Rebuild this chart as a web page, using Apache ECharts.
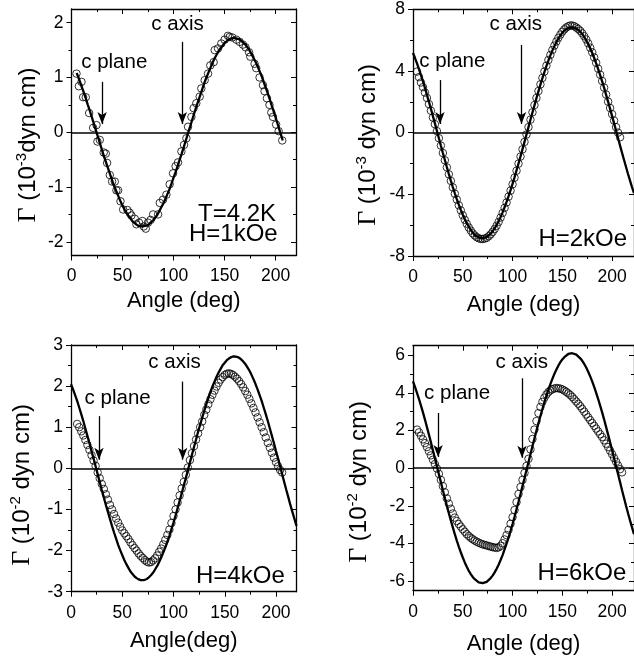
<!DOCTYPE html>
<html>
<head>
<meta charset="utf-8">
<script src="https://cdn.jsdelivr.net/npm/echarts@6/dist/echarts.min.js"></script>
<style>
  html, body { margin: 0; padding: 0; background: #fff; }
  #chart { width: 634px; height: 659px; }
</style>
</head>
<body>
<div id="chart"></div>
<script>
// Torque curves Γ(θ) at 4.2 K for four applied fields: measured points (open circles)
// and the calculated curve (solid line).

// Common angle grid (deg) used by the dense scans and the calculated curves
const angleGrid = [0,2,4,6,8,10,12,14,16,18,20,22,24,26,28,30,32,34,36,38,40,42,44,46,48,50,52,54,56,58,
  60,62,64,66,68,70,72,74,76,78,80,82,84,86,88,90,92,94,96,98,100,102,104,106,108,110,112,114,116,118,
  120,122,124,126,128,130,132,134,136,138,140,142,144,146,148,150,152,154,156,158,160,162,164,166,168,170,
  172,174,176,178,180,182,184,186,188,190,192,194,196,198,200,202,204,206,208,210,212,214,216,218,220,222];

// Tick values
const angleTicks = [0, 50, 100, 150, 200];
const angleMinor = [25, 75, 125, 175];
const ticks1k = [-2, -1, 0, 1, 2];
const minor1k = [-1.5, -0.5, 0.5, 1.5];
const ticks2k = [-8, -4, 0, 4, 8];
const minor2k = [-6, -2, 2, 6];
const ticks4k = [-3, -2, -1, 0, 1, 2, 3];
const minor4k = [-2.5, -1.5, -0.5, 0.5, 1.5, 2.5];
const ticks6k = [-6, -4, -2, 0, 2, 4, 6];
const minor6k = [-5, -3, -1, 1, 3, 5];

// H = 1 kOe (10^-3 dyn cm)
const angle1k = [4.9,7.2,9.8,11.4,14,17.3,21.2,24.5,25.4,27.7,31.6,33.6,34.9,37.5,39.8,42.4,44,45.7,48,50.6,
  54.8,57,58.7,62,63.6,66.2,69.5,70.8,72.8,75,77.5,80,84.8,86.5,89.7,93,96.2,99.5,102,104.4,107.7,
  110.3,112.6,114.2,117.5,119.7,122.3,125.6,127.2,130.5,133.8,136,139.3,140.3,143.6,146.8,150,153.3,155,157.6,161.5,
  164.8,168,170.6,174,175.2,179.4,181,184.3,187.6,189.2,191.5,194,195.8,197.4,200.5,203,206.5];
const torque1k = [1.07,0.84,0.92,0.64,0.64,0.35,0.08,0.13,-0.17,-0.14,-0.37,-0.39,-0.56,-0.78,-0.9,-0.9,-1.06,-1.06,-1.26,-1.41,
  -1.42,-1.47,-1.52,-1.58,-1.68,-1.65,-1.62,-1.72,-1.76,-1.65,-1.6,-1.5,-1.5,-1.29,-1.23,-1.14,-0.95,-0.75,-0.62,-0.55,-0.35,
  -0.23,-0.11,0.1,0.28,0.44,0.53,0.65,0.8,0.95,1.07,1.22,1.28,1.5,1.53,1.62,1.69,1.76,1.74,1.73,1.69,
  1.65,1.6,1.55,1.46,1.38,1.25,1.17,1.0,0.86,0.75,0.62,0.5,0.36,0.28,0.14,0.02,-0.15];
const fitAngle1k = [5].concat(angleGrid.slice(3, 104), [207]);
const fit1k = [1.08,
  1.04,0.94,0.83,0.73,0.62,0.5,0.39,0.27,0.15,0.03,
  -0.09,-0.21,-0.33,-0.45,-0.56,-0.67,-0.78,-0.89,-0.99,-1.08,
  -1.17,-1.26,-1.34,-1.41,-1.47,-1.53,-1.58,-1.63,-1.66,-1.69,
  -1.71,-1.72,-1.72,-1.71,-1.7,-1.68,-1.64,-1.61,-1.56,-1.51,
  -1.44,-1.37,-1.3,-1.22,-1.13,-1.04,-0.94,-0.83,-0.73,-0.62,
  -0.5,-0.39,-0.27,-0.15,-0.03,0.09,0.21,0.33,0.45,0.56,
  0.67,0.78,0.89,0.99,1.08,1.17,1.26,1.34,1.41,1.47,
  1.53,1.58,1.63,1.66,1.69,1.71,1.72,1.72,1.71,1.7,
  1.68,1.64,1.61,1.56,1.51,1.44,1.37,1.3,1.22,1.13,
  1.04,0.94,0.83,0.73,0.62,0.5,0.39,0.27,0.15,0.03,
  -0.09, -0.15];

// H = 2 kOe (10^-3 dyn cm), scan 4..208 deg
const angle2k = angleGrid.slice(2, 105);
const torque2k = [3.96,3.6,3.25,2.95,2.6,2.25,1.85,1.42,0.98,0.55,
  0.1,-0.36,-0.84,-1.32,-1.79,-2.25,-2.7,-3.13,-3.55,-3.96,
  -4.34,-4.71,-5.04,-5.36,-5.65,-5.91,-6.15,-6.35,-6.53,-6.67,
  -6.78,-6.85,-6.89,-6.9,-6.87,-6.82,-6.72,-6.6,-6.44,-6.25,
  -6.04,-5.79,-5.51,-5.21,-4.88,-4.53,-4.15,-3.76,-3.35,-2.92,
  -2.47,-2.01,-1.55,-1.08,-0.6,-0.12,0.36,0.84,1.32,1.79,
  2.25,2.7,3.13,3.55,3.96,4.34,4.71,5.04,5.36,5.65,
  5.91,6.15,6.36,6.55,6.7,6.82,6.9,6.95,6.95,6.9,
  6.82,6.72,6.6,6.44,6.25,6.04,5.79,5.51,5.21,4.88,
  4.53,4.15,3.76,3.35,2.92,2.47,2.01,1.6,1.2,0.78,
  0.36,0.0,-0.3];
const fitAngle2k = angleGrid;
const fit2k = [5.17,4.84,4.49,4.12,3.73,3.32,2.9,2.45,2.0,1.54,
  1.07,0.6,0.12,-0.36,-0.84,-1.31,-1.77,-2.23,-2.68,-3.11,
  -3.53,-3.93,-4.31,-4.67,-5.01,-5.32,-5.61,-5.87,-6.1,-6.31,
  -6.48,-6.62,-6.73,-6.8,-6.84,-6.85,-6.82,-6.77,-6.67,-6.55,
  -6.4,-6.21,-5.99,-5.75,-5.47,-5.17,-4.84,-4.49,-4.12,-3.73,
  -3.32,-2.9,-2.45,-2.0,-1.54,-1.07,-0.6,-0.12,0.36,0.84,
  1.31,1.77,2.23,2.68,3.11,3.53,3.93,4.31,4.67,5.01,
  5.32,5.61,5.87,6.1,6.31,6.48,6.62,6.73,6.8,6.84,
  6.85,6.82,6.77,6.67,6.55,6.4,6.21,5.99,5.75,5.47,
  5.17,4.84,4.49,4.12,3.73,3.32,2.9,2.45,2.0,1.54,
  1.07,0.6,0.12,-0.36,-0.84,-1.31,-1.77,-2.23,-2.68,-3.11,
  -3.53,-3.93];

// H = 4 kOe (10^-2 dyn cm), scan 6..206 deg
const angle4k = angleGrid.slice(3, 104);
const torque4k = [1.08,1.0,0.9,0.8,0.69,0.57,0.45,0.32,0.19,0.06,
  -0.1,-0.24,-0.38,-0.5,-0.63,-0.76,-0.89,-1.0,-1.11,-1.22,
  -1.32,-1.42,-1.51,-1.58,-1.65,-1.72,-1.8,-1.87,-1.94,-2.0,
  -2.07,-2.13,-2.18,-2.23,-2.27,-2.29,-2.28,-2.24,-2.19,-2.12,
  -2.03,-1.95,-1.85,-1.74,-1.62,-1.49,-1.33,-1.16,-1.0,-0.83,
  -0.66,-0.49,-0.33,-0.16,0.02,0.2,0.37,0.54,0.7,0.85,
  1.0,1.14,1.3,1.43,1.56,1.68,1.79,1.89,1.99,2.08,
  2.16,2.22,2.27,2.3,2.31,2.3,2.27,2.23,2.18,2.12,
  2.05,1.97,1.88,1.79,1.69,1.58,1.47,1.36,1.24,1.12,
  1.0,0.88,0.75,0.62,0.5,0.38,0.26,0.15,0.05,-0.04,
  -0.1];
const fitAngle4k = angleGrid.slice(0, 111);
const fit4k = [2.05,1.92,1.78,1.64,1.48,1.32,1.15,0.97,0.79,0.61,
  0.42,0.24,0.05,-0.14,-0.33,-0.52,-0.7,-0.89,-1.06,-1.23,
  -1.4,-1.56,-1.71,-1.86,-1.99,-2.11,-2.23,-2.33,-2.42,-2.51,
  -2.57,-2.63,-2.67,-2.7,-2.72,-2.72,-2.71,-2.69,-2.65,-2.6,
  -2.54,-2.46,-2.38,-2.28,-2.17,-2.05,-1.92,-1.78,-1.64,-1.48,
  -1.32,-1.15,-0.97,-0.79,-0.61,-0.42,-0.24,-0.05,0.14,0.33,
  0.52,0.7,0.89,1.06,1.23,1.4,1.56,1.71,1.86,1.99,
  2.11,2.23,2.33,2.42,2.51,2.57,2.63,2.67,2.7,2.72,
  2.72,2.71,2.69,2.65,2.6,2.54,2.46,2.38,2.28,2.17,
  2.05,1.92,1.78,1.64,1.48,1.32,1.15,0.97,0.79,0.61,
  0.42,0.24,0.05,-0.14,-0.33,-0.52,-0.7,-0.89,-1.06,-1.23,
  -1.4];

// H = 6 kOe (10^-2 dyn cm), scan 4..210 deg
const angle6k = angleGrid.slice(2, 106);
const torque6k = [2.05,1.9,1.72,1.53,1.33,1.12,0.9,0.68,0.45,0.22,
  -0.02,-0.3,-0.62,-0.95,-1.28,-1.6,-1.88,-2.15,-2.4,-2.62,
  -2.8,-2.96,-3.1,-3.24,-3.37,-3.5,-3.6,-3.69,-3.77,-3.84,
  -3.9,-3.95,-4.0,-4.04,-4.07,-4.1,-4.13,-4.16,-4.19,-4.21,
  -4.23,-4.2,-4.12,-3.98,-3.78,-3.55,-3.27,-2.95,-2.6,-2.22,
  -1.8,-1.37,-1.0,-0.62,-0.25,0.12,0.5,1.0,1.55,2.05,
  2.5,2.92,3.25,3.52,3.74,3.91,4.04,4.13,4.19,4.23,
  4.25,4.24,4.22,4.18,4.12,4.05,3.97,3.88,3.78,3.66,
  3.54,3.42,3.29,3.15,3.0,2.85,2.7,2.55,2.4,2.25,
  2.1,1.95,1.8,1.65,1.48,1.3,1.12,0.93,0.74,0.54,
  0.34,0.14,-0.05,-0.22];
const fitAngle6k = angleGrid;
const fit6k = [4.61,4.31,4.0,3.67,3.32,2.96,2.58,2.18,1.78,1.37,
  0.95,0.53,0.1,-0.32,-0.74,-1.17,-1.58,-1.99,-2.39,-2.77,
  -3.14,-3.5,-3.84,-4.16,-4.46,-4.74,-5.0,-5.23,-5.44,-5.62,
  -5.77,-5.89,-5.99,-6.06,-6.09,-6.1,-6.08,-6.03,-5.94,-5.83,
  -5.7,-5.53,-5.34,-5.12,-4.87,-4.61,-4.31,-4.0,-3.67,-3.32,
  -2.96,-2.58,-2.18,-1.78,-1.37,-0.95,-0.53,-0.1,0.32,0.74,
  1.17,1.58,1.99,2.39,2.77,3.14,3.5,3.84,4.16,4.46,
  4.74,5.0,5.23,5.44,5.62,5.77,5.89,5.99,6.06,6.09,
  6.1,6.08,6.03,5.94,5.83,5.7,5.53,5.34,5.12,4.87,
  4.61,4.31,4.0,3.67,3.32,2.96,2.58,2.18,1.78,1.37,
  0.95,0.53,0.1,-0.32,-0.74,-1.17,-1.58,-1.99,-2.39,-2.77,
  -3.14,-3.5];

const SANS = '"Liberation Sans", Arial, Helvetica, sans-serif';
const SERIF = '"Liberation Serif", "Times New Roman", serif';
const INK = '#000';

function pairs(xs, ys) { return xs.map((x, i) => [x, ys[i]]); }

// Layout and annotations of the four panels
const panels = [
  {
    grid: { left: 71.5, top: 9, width: 224.5, height: 246.5 },
    xMax: 220, yMin: -2.25, yMax: 2.25, yMajor: ticks1k, yMinor: minor1k,
    xName: 'Angle (deg)', xNameGap: 34,
    yTitle: '{g|Γ} (10{s|-3}dyn cm)', yTitleAt: [28, 145],
    points: pairs(angle1k, torque1k), curve: pairs(fitAngle1k, fit1k),
    arrows: [[30, 0.92, 0.15], [108.6, 1.65, 0.15]],
    notes: [
      { at: [42.4, 1.26], text: 'c plane', size: 20.5, align: 'center' },
      { at: [104.4, 1.96], text: 'c axis', size: 20.5, align: 'center' },
      { at: [201, -1.51], text: 'T=4.2K', size: 24, align: 'right' },
      { at: [202.5, -1.88], text: 'H=1kOe', size: 24, align: 'right' }
    ]
  },
  {
    grid: { left: 413, top: 9.3, width: 221, height: 246.7 },
    xMax: 222, yMin: -8, yMax: 8, yMajor: ticks2k, yMinor: minor2k,
    xName: 'Angle (deg)', xNameGap: 38,
    yTitle: '{g|Γ} (10{s|-3} dyn cm)', yTitleAt: [368, 145],
    points: pairs(angle2k, torque2k), curve: pairs(fitAngle2k, fit2k),
    arrows: [[27.1, 3.41, 0.56], [109, 5.69, 0.56]],
    notes: [
      { at: [40, 4.6], text: 'c plane', size: 20.5, align: 'center' },
      { at: [103.7, 6.98], text: 'c axis', size: 20.5, align: 'center' },
      { at: [215.6, -6.96], text: 'H=2kOe', size: 24, align: 'right' }
    ]
  },
  {
    grid: { left: 71, top: 345, width: 225.5, height: 246.7 },
    xMax: 220, yMin: -3, yMax: 3, yMajor: ticks4k, yMinor: minor4k,
    xName: 'Angle(deg)', xNameGap: 38,
    yTitle: '{g|Γ} (10{s|-2} dyn cm)', yTitleAt: [22, 485],
    points: pairs(angle4k, torque4k), curve: pairs(fitAngle4k, fit4k),
    arrows: [[27.3, 1.27, 0.21], [109, 2.11, 0.21]],
    notes: [
      { at: [46, 1.69], text: 'c plane', size: 20.5, align: 'center' },
      { at: [101.5, 2.56], text: 'c axis', size: 20.5, align: 'center' },
      { at: [209, -2.64], text: 'H=4kOe', size: 24, align: 'right' }
    ]
  },
  {
    grid: { left: 413, top: 345.7, width: 221, height: 245 },
    xMax: 222, yMin: -6.5, yMax: 6.5, yMajor: ticks6k, yMinor: minor6k,
    xName: 'Angle (deg)', xNameGap: 42,
    yTitle: '{g|Γ} (10{s|-2} dyn cm)', yTitleAt: [359, 482],
    points: pairs(angle6k, torque6k), curve: pairs(fitAngle6k, fit6k),
    arrows: [[25.2, 2.93, 0.6], [109.5, 4.77, 0.55]],
    notes: [
      { at: [44.8, 3.95], text: 'c plane', size: 20.5, align: 'center' },
      { at: [109.8, 5.6], text: 'c axis', size: 20.5, align: 'center' },
      { at: [214.8, -5.6], text: 'H=6kOe', size: 24, align: 'right' }
    ]
  }
];

const option = { animation: false, grid: [], xAxis: [], yAxis: [], series: [], graphic: [] };

function axis(kind, p, gi, pos, values, len, inside, withLabels) {
  const isX = kind === 'x';
  const a = {
    type: 'value', gridIndex: gi, position: pos,
    min: isX ? 0 : p.yMin, max: isX ? p.xMax : p.yMax,
    splitLine: { show: false },
    axisLine: { show: len === 5, onZero: false, lineStyle: { color: INK, width: 1.3 } },
    axisTick: { show: true, inside: inside, length: len, customValues: values, lineStyle: { color: INK, width: 1 } },
    axisLabel: { show: false }
  };
  if (withLabels) {
    a.axisLabel = { show: true, customValues: values, fontSize: 17.5, color: INK, fontFamily: SANS, margin: isX ? 12 : 8 };
  }
  return a;
}

panels.forEach((p, gi) => {
  option.grid.push(p.grid);
  const xi = option.xAxis.length;
  const yi = option.yAxis.length;

  const xb = axis('x', p, gi, 'bottom', angleTicks, 5, false, true);
  xb.name = p.xName;
  xb.nameLocation = 'middle';
  xb.nameGap = p.xNameGap;
  xb.nameTextStyle = { fontSize: 22, color: INK, fontFamily: SANS };
  option.xAxis.push(xb,
    axis('x', p, gi, 'bottom', angleMinor, 3, false, false),
    axis('x', p, gi, 'top', angleTicks, 5, true, false),
    axis('x', p, gi, 'top', angleMinor, 3, true, false));
  option.yAxis.push(
    axis('y', p, gi, 'left', p.yMajor, 5, false, true),
    axis('y', p, gi, 'left', p.yMinor, 3, false, false),
    axis('y', p, gi, 'right', p.yMajor, 5, true, false),
    axis('y', p, gi, 'right', p.yMinor, 3, true, false));

  // measured torque: open circles, with the Γ = 0 reference line
  option.series.push({
    type: 'scatter', xAxisIndex: xi, yAxisIndex: yi, silent: true, z: 2,
    symbol: 'circle', symbolSize: 7.5,
    itemStyle: { color: 'rgba(255,255,255,0)', borderColor: INK, borderWidth: 1 },
    data: p.points,
    markLine: {
      silent: true, symbol: 'none', label: { show: false },
      lineStyle: { color: INK, width: 1.6, type: 'solid' },
      data: [{ yAxis: 0 }]
    }
  });

  // calculated torque curve, with the arrows marking the c plane and c axis
  option.series.push({
    type: 'line', xAxisIndex: xi, yAxisIndex: yi, silent: true, z: 3,
    showSymbol: false, symbol: 'none', smooth: false,
    lineStyle: { color: INK, width: 2.3 },
    data: p.curve,
    markLine: {
      silent: true, symbol: ['none', 'arrow'], symbolSize: [7, 12], label: { show: false },
      lineStyle: { color: INK, width: 1.3, type: 'solid' },
      itemStyle: { color: INK },
      data: p.arrows.map(a => [{ coord: [a[0], a[1]] }, { coord: [a[0], a[2]] }])
    }
  });

  // text annotations
  option.series.push({
    type: 'scatter', xAxisIndex: xi, yAxisIndex: yi, silent: true, z: 4,
    symbolSize: 1, itemStyle: { color: 'rgba(0,0,0,0)' },
    labelLayout: { hideOverlap: false },
    data: p.notes.map(n => ({
      value: n.at, name: n.text,
      label: { show: true, formatter: '{b}', position: [0, 0], align: n.align, verticalAlign: 'middle',
               fontSize: n.size, color: INK, fontFamily: SANS, opacity: 1,
               textBorderWidth: 0, textShadowBlur: 0 }
    }))
  });

  // vertical axis title
  option.graphic.push({
    type: 'text', x: p.yTitleAt[0], y: p.yTitleAt[1], rotation: Math.PI / 2, silent: true,
    style: {
      text: p.yTitle, align: 'center', verticalAlign: 'middle',
      fill: INK, fontSize: 24, fontFamily: SANS, lineHeight: 28,
      rich: {
        g: { fontFamily: SERIF, fontSize: 26, lineHeight: 28, fill: INK },
        s: { fontSize: 15, verticalAlign: 'top', fill: INK, fontFamily: SANS }
      }
    }
  });
});

const chart = echarts.init(document.getElementById('chart'), null, { renderer: 'canvas' });
chart.setOption(option);
</script>
</body>
</html>
